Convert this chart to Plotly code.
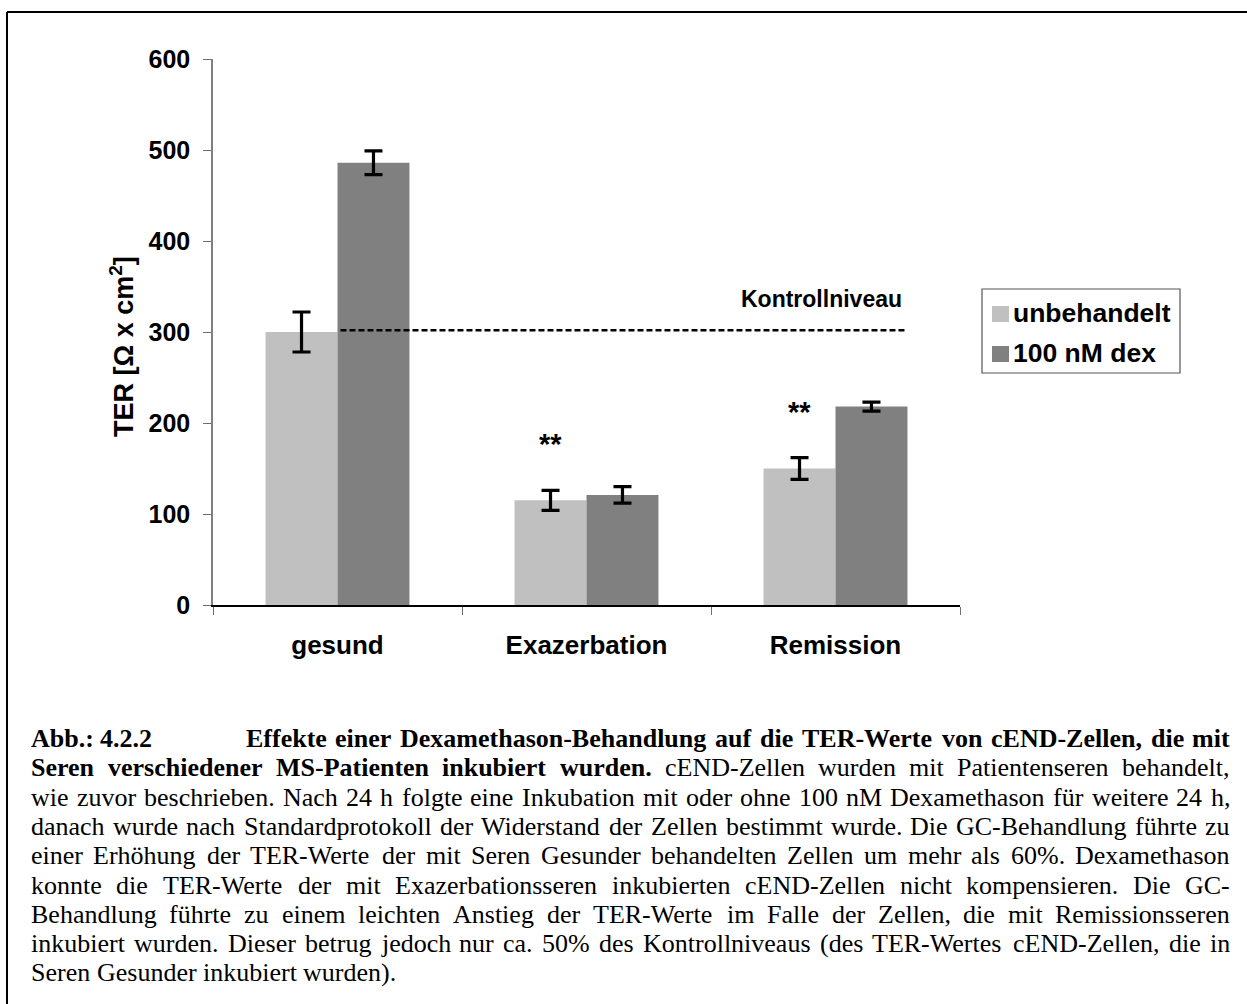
import plotly.graph_objects as go

# ---------------- data ----------------
categories = ["gesund", "Exazerbation", "Remission"]
series_names = ["unbehandelt", "100 nM dex"]
series_colors = ["#C0C0C0", "#808080"]
unbehandelt = [300, 115, 150]
unbehandelt_err = [22, 11, 12]
dex_100nM = [486, 121, 218]
dex_100nM_err = [13, 9, 5]
significance = ["", "**", "**"]
y_ticks = [0, 100, 200, 300, 400, 500, 600]
y_title = "TER [Ω x cm<sup>2</sup>]"
control_label = "Kontrollniveau"
control_level = unbehandelt[0]

caption_blocks = [
    # (line, x_left, x_right or None, [(text, bold), ...])
    (0, 30, None, [("Abb.: 4.2.2", True)]),
    (0, 245, 1229, [("Effekte einer Dexamethason-Behandlung auf die TER-Werte von cEND-Zellen, die mit", True)]),
    (1, 30, 1229, [("Seren verschiedener MS-Patienten inkubiert wurden.", True),
                   ("cEND-Zellen wurden mit Patientenseren behandelt,", False)]),
    (2, 30, 1229, [("wie zuvor beschrieben. Nach 24 h folgte eine Inkubation mit oder ohne 100 nM Dexamethason für weitere 24 h,", False)]),
    (3, 30, 1229, [("danach wurde nach Standardprotokoll der Widerstand der Zellen bestimmt wurde. Die GC-Behandlung führte zu", False)]),
    (4, 30, 1229, [("einer Erhöhung der TER-Werte der mit Seren Gesunder behandelten Zellen um mehr als 60%. Dexamethason", False)]),
    (5, 30, 1229, [("konnte die TER-Werte der mit Exazerbationsseren inkubierten cEND-Zellen nicht kompensieren. Die GC-", False)]),
    (6, 30, 1229, [("Behandlung führte zu einem leichten Anstieg der TER-Werte im Falle der Zellen, die mit Remissionsseren", False)]),
    (7, 30, 1229, [("inkubiert wurden. Dieser betrug jedoch nur ca. 50% des Kontrollniveaus (des TER-Wertes cEND-Zellen, die in", False)]),
    (8, 30, None, [("Seren Gesunder inkubiert wurden).", False)]),
]

# ---------------- geometry ----------------
W, H = 1247, 1004
PL, PR, PT, PB = 213, 960, 59, 605          # plot area in pixels
SANS = "Liberation Sans, Arial, sans-serif"
SERIF = "Liberation Serif, Times New Roman, serif"
CAP_SIZE = 26
CAP_BASE0 = 746.5
CAP_STEP = 29.3


def px(x):
    return (x - PL) / (PR - PL)


def py(y):
    return (PB - y) / (PB - PT)


# Times metrics (1/1000 em) used for justified caption lines
_REG = dict(zip(" ,.:-()%", [250, 250, 250, 278, 333, 333, 333, 833]))
_REG.update(dict(zip("ABCDEFGHIJKLMNOPQRSTUVWXYZ",
                     [722, 667, 667, 722, 611, 556, 722, 722, 333, 389, 722, 611, 889,
                      722, 722, 556, 722, 667, 556, 611, 722, 722, 944, 722, 722, 611])))
_REG.update(dict(zip("abcdefghijklmnopqrstuvwxyz",
                     [444, 500, 444, 500, 444, 333, 500, 500, 278, 278, 500, 278, 778,
                      500, 500, 500, 500, 333, 389, 278, 500, 500, 722, 500, 500, 444])))
_REG.update({"ä": 444, "ö": 500, "ü": 500})
_BLD = dict(zip(" ,.:-()%", [250, 250, 250, 333, 333, 333, 333, 1000]))
_BLD.update(dict(zip("ABCDEFGHIJKLMNOPQRSTUVWXYZ",
                     [722, 667, 722, 722, 667, 611, 778, 778, 389, 500, 778, 667, 944,
                      722, 778, 611, 778, 722, 556, 667, 722, 722, 1000, 722, 722, 667])))
_BLD.update(dict(zip("abcdefghijklmnopqrstuvwxyz",
                     [500, 556, 444, 556, 444, 333, 500, 556, 278, 333, 556, 278, 833,
                      556, 500, 556, 556, 444, 389, 333, 556, 500, 722, 500, 500, 444])))
_BLD.update({"ä": 500, "ö": 500, "ü": 556})


def text_width(s, bold, size):
    table = _BLD if bold else _REG
    return sum(table.get(c, 500) for c in s) * size / 1000.0


fig = go.Figure()

for name, vals, errs, col in [
    (series_names[0], unbehandelt, unbehandelt_err, series_colors[0]),
    (series_names[1], dex_100nM, dex_100nM_err, series_colors[1]),
]:
    fig.add_trace(go.Bar(
        x=categories, y=vals, name=name,
        marker=dict(color=col, line=dict(width=0)),
        error_y=dict(type="data", array=errs, visible=True,
                     color="black", thickness=3.2, width=9),
        showlegend=False,
    ))

bargap = 0.422
bar_w = (1 - bargap) / 2

annotations = []
shapes = []

# significance marks above the untreated bars
for i, s in enumerate(significance):
    if s:
        annotations.append(dict(
            x=i - bar_w / 2, y=unbehandelt[i] + unbehandelt_err[i], xref="x", yref="y",
            text=s, showarrow=False, yanchor="middle", yshift=46,
            font=dict(family=SANS, size=29, color="black", weight="bold"),
        ))

# control level line
ctrl_x0 = 0 + 0.012
ctrl_x1 = len(categories) - 1 + bar_w - 0.012
shapes.append(dict(type="line", xref="x", yref="y", x0=ctrl_x0, x1=ctrl_x1,
                   y0=control_level + 2, y1=control_level + 2,
                   line=dict(color="black", width=2.4, dash="6px,3px")))
annotations.append(dict(
    x=ctrl_x1, y=control_level, xref="x", yref="y", text=control_label,
    showarrow=False, xanchor="right", yanchor="middle", yshift=33,
    font=dict(family=SANS, size=23, color="black", weight="bold"),
))

# y-axis title
annotations.append(dict(
    x=px(122), y=py(347), xref="paper", yref="paper", text=y_title,
    textangle=-90, showarrow=False, xanchor="center", yanchor="middle",
    font=dict(family=SANS, size=27, color="black", weight="bold"),
))

# legend box
shapes.append(dict(type="rect", xref="paper", yref="paper",
                   x0=px(982), x1=px(1180), y0=py(289), y1=py(373),
                   line=dict(color="#555555", width=1.2), fillcolor="white"))
for k, (name, col) in enumerate(zip(series_names, series_colors)):
    cy = 314 + k * 40
    shapes.append(dict(type="rect", xref="paper", yref="paper",
                       x0=px(992), x1=px(1009), y0=py(cy - 8), y1=py(cy + 8),
                       line=dict(width=0), fillcolor=col))
    annotations.append(dict(
        x=px(1011), y=py(cy - 1), xref="paper", yref="paper", text=name,
        showarrow=False, xanchor="left", yanchor="middle",
        font=dict(family=SANS, size=26.5, color="black", weight="bold"),
    ))

# outer frame (top and left edges)
shapes.append(dict(type="line", xref="paper", yref="paper",
                   x0=px(7), x1=px(W + 5), y0=py(12), y1=py(12),
                   line=dict(color="black", width=2)))
shapes.append(dict(type="line", xref="paper", yref="paper",
                   x0=px(7), x1=px(7), y0=py(12), y1=py(H + 5),
                   line=dict(color="black", width=2)))

# figure caption, word by word so lines can be justified
for line, x_left, x_right, segments in caption_blocks:
    words = []
    for txt, bold in segments:
        for w in txt.split(" "):
            words.append((w, bold))
    widths = [text_width(w, b, CAP_SIZE) for w, b in words]
    if x_right is not None and len(words) > 1:
        gap = (x_right - x_left - sum(widths)) / (len(words) - 1)
    else:
        gap = 0.25 * CAP_SIZE
    baseline = CAP_BASE0 + line * CAP_STEP
    xpos = x_left
    for (w, b), wd in zip(words, widths):
        annotations.append(dict(
            x=px(xpos), y=py(baseline - 8), xref="paper", yref="paper",
            text=f"<b>{w}</b>" if b else w, showarrow=False,
            xanchor="left", yanchor="middle", borderpad=0,
            font=dict(family=SERIF, size=CAP_SIZE, color="black"),
        ))
        xpos += wd + gap

fig.update_layout(
    template="none",
    width=W, height=H,
    margin=dict(l=PL, r=W - PR, t=PT, b=H - PB, pad=0, autoexpand=False),
    paper_bgcolor="white", plot_bgcolor="white",
    font=dict(family=SANS, size=24, color="black"),
    barmode="group", bargap=bargap, bargroupgap=0,
    showlegend=False,
    xaxis=dict(
        type="category", range=[-0.5, len(categories) - 0.5],
        showline=True, linecolor="black", linewidth=1.5,
        ticks="outside", tickson="boundaries", ticklen=8, tickwidth=1.3,
        tickcolor="#707070", showgrid=False, zeroline=False, automargin=False,
        tickfont=dict(family=SANS, size=26, color="black", weight="bold"),
        ticklabelstandoff=16,
    ),
    yaxis=dict(
        range=[0, 600], tickvals=y_ticks,
        showline=True, linecolor="#808080", linewidth=1.5,
        ticks="outside", ticklen=8, tickwidth=1.3, tickcolor="#707070",
        showgrid=False, zeroline=False, automargin=False,
        tickfont=dict(family=SANS, size=25, color="black", weight="bold"),
        ticklabelstandoff=8,
    ),
    shapes=shapes,
    annotations=annotations,
)

fig.write_html("out.html")
